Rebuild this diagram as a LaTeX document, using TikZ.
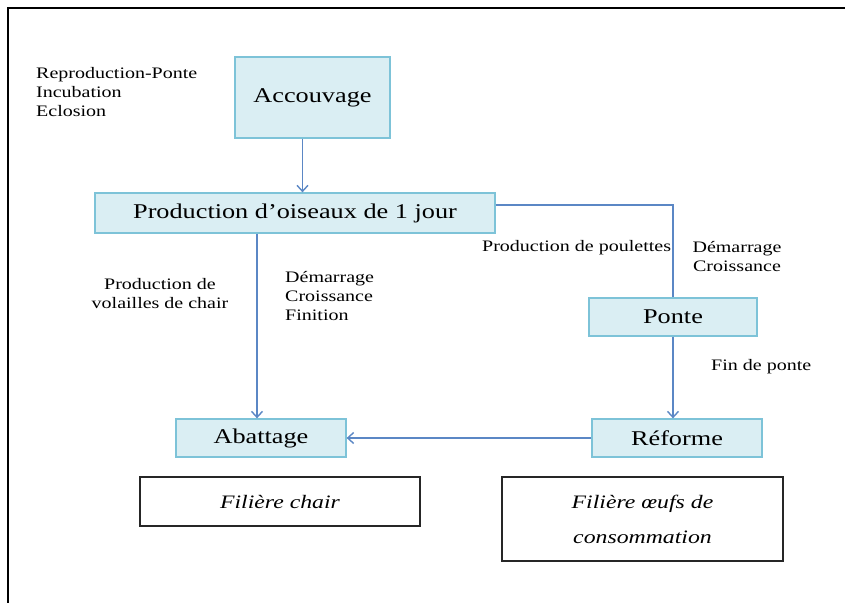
\documentclass[tikz,border=0pt]{standalone}
\usepackage{fontspec}
\setmainfont{Liberation Serif}[FakeStretch=1.25]
\usepackage{tikz}
\usetikzlibrary{arrows.meta}
\usepackage{xcolor}
\definecolor{boxfill}{HTML}{DAEEF3}
\definecolor{boxline}{HTML}{7DC3D8}
\definecolor{arrline}{HTML}{5B87C5}

\tikzset{
  abox/.style={rectangle,draw=boxline,fill=boxfill,line width=1.3pt,inner sep=0pt,font=\fontsize{21}{24}\selectfont},
  fbox/.style={rectangle,draw=black!85,line width=1.3pt,inner sep=0pt,align=center,font=\fontsize{19}{35}\selectfont\itshape},
  lbl/.style={inner sep=0pt,font=\fontsize{16}{19}\selectfont},
  arr/.style={draw=arrline,line width=1.4pt,-{Straight Barb[length=6pt,width=11pt]}}
}

\begin{document}
\begin{tikzpicture}[x=1pt,y=-1pt]
\useasboundingbox (0,0) rectangle (845,603);
\draw[line width=2.5pt](845,8)--(8,8)--(8,603);% frame, top and left only

% blue boxes
\node[abox,minimum width=155pt,minimum height=81pt] (acc) at (312.5,97.5) {Accouvage};
\node[abox,minimum width=400pt,minimum height=40pt] (prod) at (295,213) {Production d'oiseaux de 1 jour};
\node[abox,minimum width=168pt,minimum height=38pt] (ponte) at (673,317) {Ponte};
\node[abox,minimum width=170pt,minimum height=38pt] (abat) at (261,438) {Abattage};
\node[abox,minimum width=170pt,minimum height=38pt] (ref) at (677,438) {Réforme};

% filieres
\node[fbox,minimum width=280pt,minimum height=49pt] (fchair) at (280,501.5) {Filière chair};
\node[fbox,minimum width=281pt,minimum height=84pt] (foeuf) at (642.5,519) {Filière œufs de\\consommation};

% labels
\node[lbl,align=left,anchor=west] (lrepro) at (36,92) {Reproduction-Ponte\\Incubation\\Eclosion};
\node[lbl,align=center] (lvol) at (160,294) {Production de\\volailles de chair};
\node[lbl,align=left,anchor=west] (ldem) at (285,296) {Démarrage\\Croissance\\Finition};
\node[lbl,anchor=west] (lpoul) at (482,248) {Production de poulettes};
\node[lbl,align=center] (ldem2) at (737,257) {Démarrage\\Croissance};
\node[lbl,anchor=west] (lfin) at (711,367) {Fin de ponte};

% connectors
\draw[arr]([xshift=-10pt]acc.south)--([xshift=-10pt]acc.south |- prod.north);
\draw[arr]([xshift=-38pt]prod.south)--([xshift=-38pt]prod.south |- abat.north);
\draw[arrline,line width=1.4pt]([yshift=8pt]prod.east)-|(ponte.north);
\draw[arr](ponte.south)--(ponte.south |- ref.north);
\draw[arr](ref.west)--(abat.east);

\end{tikzpicture}
\end{document}
